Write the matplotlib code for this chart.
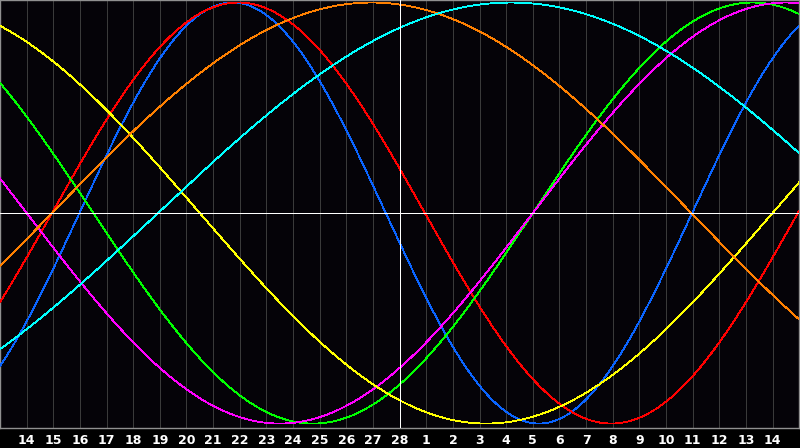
import numpy as np
import matplotlib
matplotlib.use("Agg")
import matplotlib.pyplot as plt

# day labels under the grid (today = 28)
day_labels = list(range(14, 29)) + list(range(1, 15))
today_pos = 15

# biorhythm cycles: length in days and position (chart day) of the upward zero crossing
cycle_names = ["physical", "emotional", "intellectual", "intuitive", "aesthetic", "awareness", "spiritual"]
cycle_len = [23, 28, 33, 38, 43, 48, 53]
cycle_start = [2.98, 1.95, 20.0, 20.0, 29.0, 1.95, 5.93]
cycle_col = ["#0a64ff", "#ff0000", "#00ff00", "#ff00ff", "#ffff00", "#ff8000", "#00ffff"]

fig = plt.figure(figsize=(8, 4.48), dpi=100, facecolor="black")
ax = fig.add_axes([0, 20 / 448, 0.999, 428 / 448])
ax.set_facecolor("#050308")

t = np.linspace(0, 30, 1600)
for name, P, z, c in zip(cycle_names, cycle_len, cycle_start, cycle_col):
    ax.plot(t, np.sin(2 * np.pi * (t - z) / P), color=c, lw=0.6, antialiased=False, zorder=3)

pos = np.arange(1, len(day_labels) + 1)
for p in pos:
    if p != today_pos:
        ax.axvline(p, color="#3a3a3a", lw=0.72, antialiased=False, zorder=1)
ax.axvline(today_pos, color="white", lw=0.72, antialiased=False, zorder=4)
ax.axhline(0, color="white", lw=0.72, antialiased=False, zorder=4)

ax.set_xlim(0, 30)
ax.set_ylim(-1.021, 1.012)
ax.set_xticks(pos)
ax.set_xticklabels([str(d) for d in day_labels], color="white", fontsize=9,
                   fontweight="bold", family="DejaVu Sans")
ax.set_yticks([])
ax.tick_params(axis="x", length=0, pad=4)
for s in ax.spines.values():
    s.set_color("#909090")
    s.set_linewidth(1)

fig.savefig("out.png", dpi=100, facecolor="black")
